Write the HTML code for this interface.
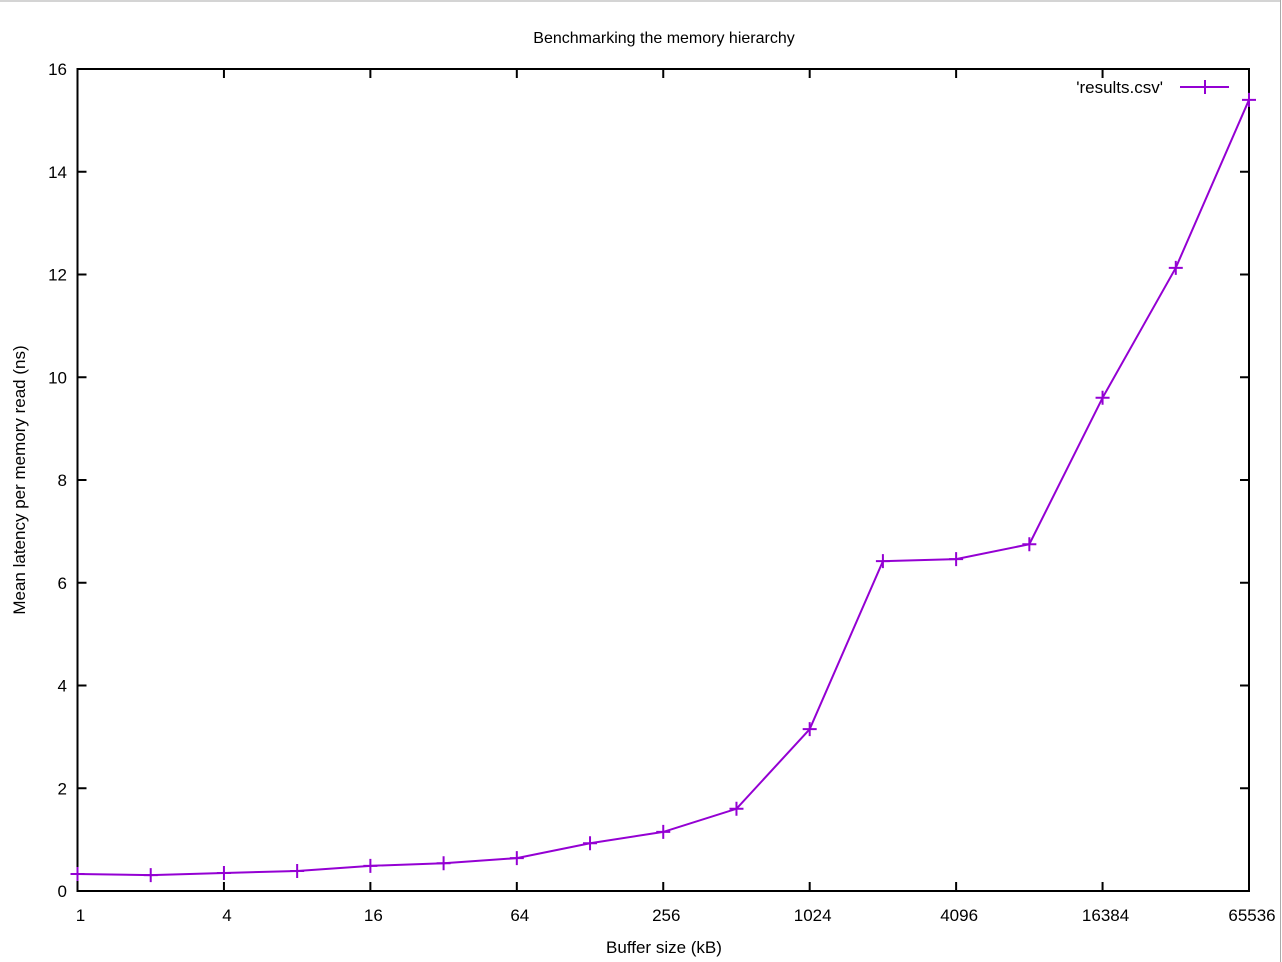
<!DOCTYPE html>
<html><head><meta charset="utf-8"><style>
html,body{margin:0;padding:0;background:#fff;}
svg{display:block;font-family:"Liberation Sans",sans-serif;}
</style></head><body>
<svg id="chart" width="1282" height="962" viewBox="0 0 1282 962">
<line x1="0" y1="1" x2="1280" y2="1" stroke="#aaa" stroke-width="1"/>
<line x1="1280.5" y1="0" x2="1280.5" y2="962" stroke="#aaa" stroke-width="1"/>
<text x="664" y="43" text-anchor="middle" font-size="16">Benchmarking the memory hierarchy</text>
<text x="664" y="953" text-anchor="middle" font-size="17">Buffer size (kB)</text>
<text transform="translate(25,480) rotate(-90)" text-anchor="middle" font-size="17">Mean latency per memory read (ns)</text>
<g id="axes"></g>
<g id="series"></g>
<g>
<text x="1163" y="93" text-anchor="end" font-size="17">'results.csv'</text>
<line x1="1180" y1="87" x2="1229" y2="87" stroke="#9400d3" stroke-width="2"/>
<line x1="1205" y1="80" x2="1205" y2="94" stroke="#9400d3" stroke-width="2"/>
</g>
</svg>
<script>
const xTicks = [1,4,16,64,256,1024,4096,16384,65536];
const yTicks = [0,2,4,6,8,10,12,14,16];
const bufferSizes = [1,2,4,8,16,32,64,128,256,512,1024,2048,4096,8192,16384,32768,65536];
const latencies = [0.33,0.31,0.35,0.39,0.49,0.54,0.64,0.93,1.15,1.6,3.15,6.42,6.46,6.75,9.6,12.13,15.4];

const L=77.5,R=1249,T=69,B=891;
const NS='http://www.w3.org/2000/svg';
function xs(v){return L+(Math.log2(v)-0)/16*(R-L);}
function ys(v){return B-(v/16)*(B-T);}
function mk(tag,attrs,parent){const e=document.createElementNS(NS,tag);for(const k in attrs)e.setAttribute(k,attrs[k]);parent.appendChild(e);return e;}
const axes=document.getElementById('axes');
const frame=mk('rect',{x:L,y:T,width:R-L,height:B-T,fill:'none',stroke:'#000','stroke-width':2},axes);


xTicks.forEach(v=>{
  const x=xs(v);
  const t1=mk('line',{x1:x,y1:B,x2:x,y2:B-9,stroke:'#000','stroke-width':2},axes);
  
  
  const t2=mk('line',{x1:x,y1:T,x2:x,y2:T+9,stroke:'#000','stroke-width':2},axes);
  
  
  const tx=mk('text',{x:x+3,y:921,'text-anchor':'middle','font-size':17},axes);
  tx.textContent=v;
  
  
});
yTicks.forEach(v=>{
  const y=ys(v);
  const t1=mk('line',{x1:L,y1:y,x2:L+9,y2:y,stroke:'#000','stroke-width':2},axes);
  
  
  const t2=mk('line',{x1:R,y1:y,x2:R-9,y2:y,stroke:'#000','stroke-width':2},axes);
  
  
  const tx=mk('text',{x:67,y:y+6,'text-anchor':'end','font-size':17},axes);
  tx.textContent=v;
  
  
});
const ser=document.getElementById('series');
const pts=bufferSizes.map((b,i)=>xs(b)+','+ys(latencies[i])).join(' ');
const line=mk('polyline',{points:pts,fill:'none',stroke:'#9400d3','stroke-width':2},ser);


bufferSizes.forEach((b,i)=>{
  const x=xs(b),y=ys(latencies[i]);
  const g=mk('path',{d:`M${x-7},${y}H${x+7}M${x},${y-7}V${y+7}`,stroke:'#9400d3','stroke-width':2,fill:'none'},ser);
  
  
});
</script>
</body></html>
